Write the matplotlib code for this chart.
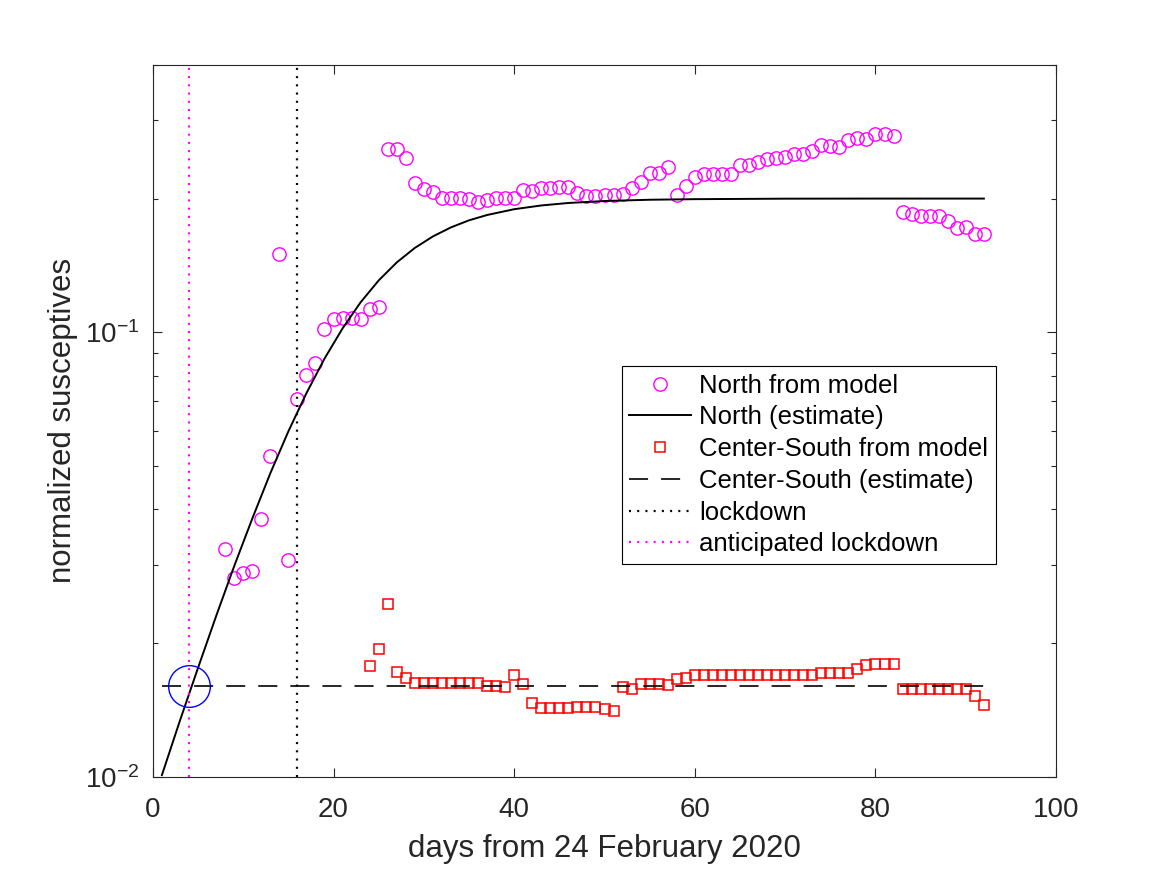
import matplotlib
matplotlib.use("Agg")
import matplotlib.pyplot as plt
from matplotlib.ticker import LogLocator, NullFormatter, FixedLocator

plt.rcParams['font.family'] = ['Liberation Sans', 'DejaVu Sans']
plt.rcParams['mathtext.fontset'] = 'custom'
plt.rcParams['mathtext.rm'] = 'Liberation Sans'

# North, points from model (days 8..92)
north_days = list(range(8, 93))
north_vals = [
    0.0326, 0.0281, 0.0287, 0.0290, 0.0381, 0.0528, 0.150, 0.0308, 0.0709, 0.0804,
    0.0855, 0.102, 0.107, 0.108, 0.108, 0.107, 0.113, 0.114, 0.258, 0.258,
    0.247, 0.217, 0.210, 0.207, 0.201, 0.201, 0.201, 0.200, 0.197, 0.199,
    0.201, 0.201, 0.201, 0.209, 0.208, 0.211, 0.211, 0.212, 0.212, 0.206,
    0.203, 0.203, 0.2035, 0.2035, 0.205, 0.211, 0.218, 0.228, 0.228, 0.235,
    0.204, 0.213, 0.224, 0.227, 0.227, 0.227, 0.227, 0.238, 0.238, 0.242,
    0.246, 0.247, 0.248, 0.252, 0.252, 0.256, 0.264, 0.262, 0.261, 0.271,
    0.274, 0.273, 0.279, 0.279, 0.277, 0.187, 0.185, 0.183, 0.183, 0.183,
    0.1785, 0.172, 0.173, 0.1665, 0.1665,
]

# North estimate curve
north_est_days = [1, 3, 5, 7, 9, 11, 13, 15, 17, 19, 21, 23, 25, 27, 29, 31, 33,
                  35, 37, 40, 43, 46, 50, 55, 60, 70, 80, 92]
north_est_vals = [0.0101, 0.0134, 0.0176, 0.0230, 0.0298, 0.0381, 0.0482, 0.0599,
                  0.0730, 0.0873, 0.1021, 0.1169, 0.1309, 0.1437, 0.1549, 0.1644,
                  0.1723, 0.1787, 0.1837, 0.1893, 0.1930, 0.1955, 0.1975, 0.1988,
                  0.1994, 0.1999, 0.2000, 0.2000]

# Center-South, points from model (days 24..92)
cs_days = list(range(24, 93))
cs_vals = [
    0.0178, 0.0194, 0.0245, 0.0172, 0.0167, 0.0163, 0.0163, 0.0163, 0.0163, 0.0163,
    0.0163, 0.0163, 0.0163, 0.0160, 0.0160, 0.0159, 0.0170, 0.0162, 0.0147, 0.0143,
    0.0143, 0.0143, 0.0143, 0.0144, 0.0144, 0.0144, 0.0142, 0.0141, 0.0159, 0.0158,
    0.0162, 0.0162, 0.0162, 0.0161, 0.0166, 0.0167,
    0.0170, 0.0170, 0.0170, 0.0170, 0.0170, 0.0170, 0.0170, 0.0170, 0.0170, 0.0170,
    0.0170, 0.0170, 0.0170, 0.0170,
    0.0171, 0.0171, 0.0171, 0.0171, 0.0175, 0.0179, 0.0180, 0.0180, 0.0180,
    0.0158, 0.0158, 0.0158, 0.0158, 0.0158, 0.0158, 0.0158, 0.0158, 0.0152, 0.0145,
]

# Center-South estimate (flat)
cs_est_days = [1, 92]
cs_est_vals = [0.0160, 0.0160]

lockdown_day = 16
anticipated_day = 4
crossing = (4, 0.016)

fg = '#262626'

fig = plt.figure(figsize=(11.67, 8.75), dpi=100)
ax = fig.add_axes([0.131, 0.112, 0.774, 0.814])

ax.plot(north_days, north_vals, 'o', color='#ff00ff', mfc='none', ms=9.6, mew=1.0,
        label='North from model')
ax.plot(north_est_days, north_est_vals, '-', color='black', lw=1.4,
        label='North (estimate)')
ax.plot(cs_days, cs_vals, 's', color='#ff0000', mfc='none', ms=7.2, mew=1.1,
        label='Center-South from model')
ax.plot(cs_est_days, cs_est_vals, color='black', lw=1.4, alpha=0.85,
        linestyle=(0, (9.8, 6.7)), label='Center-South (estimate)')
ax.axvline(lockdown_day, color='black', lw=1.6, linestyle=(0, (0.9, 2.8)),
           label='lockdown')
ax.axvline(anticipated_day, color='#ff00ff', lw=1.6, linestyle=(0, (0.9, 2.8)),
           label='anticipated lockdown')
ax.plot([crossing[0]], [crossing[1]], 'o', color='#0000ff', mfc='none', ms=30, mew=1.0)

ax.set_yscale('log')
ax.set_xlim(0, 100)
ax.set_ylim(0.01, 0.4)
ax.xaxis.set_major_locator(FixedLocator([0, 20, 40, 60, 80, 100]))
ax.yaxis.set_major_locator(LogLocator(base=10))
ax.yaxis.set_minor_locator(LogLocator(base=10, subs=range(2, 10)))
ax.yaxis.set_minor_formatter(NullFormatter())

ax.tick_params(which='both', direction='in', top=True, right=True, colors=fg,
               labelsize=20, width=0.8)
ax.tick_params(which='major', length=6.5, pad=9.5)
ax.tick_params(axis='x', which='major', pad=14.5)
ax.tick_params(which='minor', length=3.5)
for s in ax.spines.values():
    s.set_color(fg)
    s.set_linewidth(0.8)

ax.set_xlabel('days from 24 February 2020', fontsize=22.5, color=fg, labelpad=8)
ax.set_ylabel('normalized susceptives', fontsize=22.5, color=fg, labelpad=5.5)

leg = ax.legend(loc='upper left', bbox_to_anchor=(0.519, 0.577), borderaxespad=0,
                fontsize=18.5, frameon=True, fancybox=False, framealpha=1,
                edgecolor='black', handlelength=2.4, handletextpad=0.32,
                labelspacing=0.3, borderpad=0.3)
leg.get_frame().set_linewidth(0.8)

fig.savefig('out.png', dpi=100)
